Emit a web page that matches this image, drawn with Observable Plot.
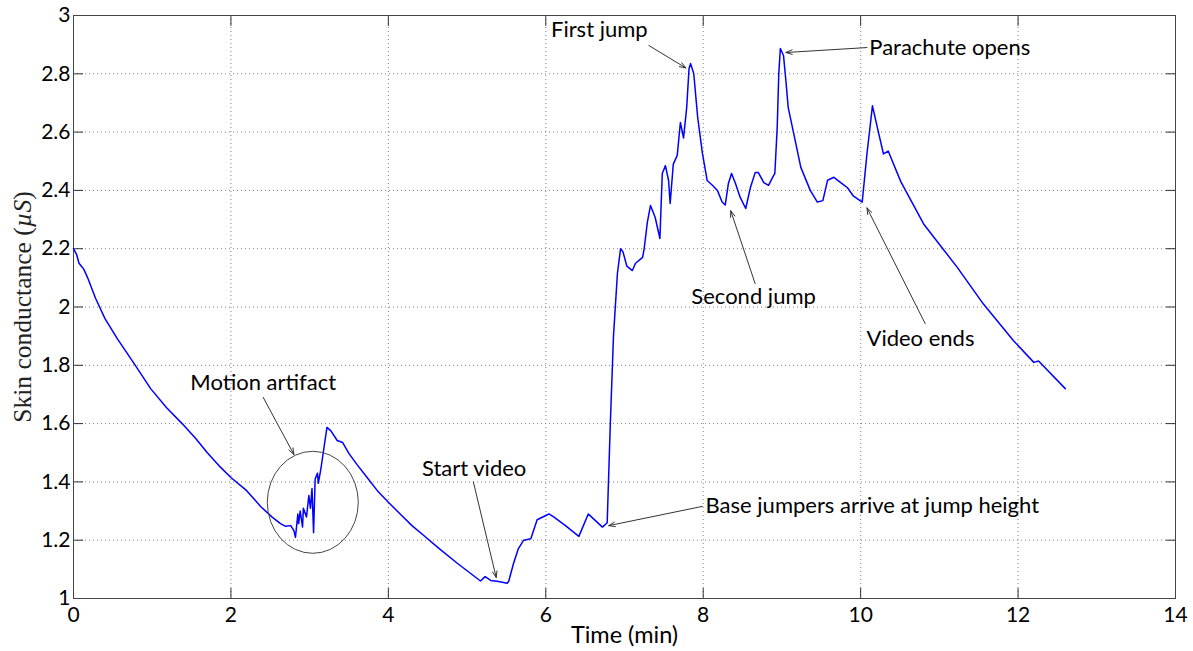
<!DOCTYPE html>
<html><head><meta charset="utf-8">
<script src="https://cdn.jsdelivr.net/npm/d3@7"></script>
<script src="https://cdn.jsdelivr.net/npm/@observablehq/plot@0.6"></script>
<style>body{margin:0;background:#fff} svg{display:block}</style>
</head><body><div id="chart"></div>
<script>
// Time (min)
const time = [0.00,0.04,0.07,0.10,0.13,0.18,0.28,0.40,0.56,0.76,0.98,1.18,1.38,1.55,1.70,1.85,2.00,2.20,2.38,2.52,2.63,2.69,2.76,2.80,2.82,2.85,2.86,2.88,2.91,2.92,2.96,2.99,3.01,3.03,3.05,3.07,3.10,3.11,3.14,3.22,3.27,3.35,3.42,3.50,3.60,3.73,3.86,4.00,4.15,4.30,4.45,4.65,4.88,5.05,5.17,5.23,5.30,5.40,5.51,5.53,5.59,5.65,5.72,5.81,5.89,6.04,6.10,6.25,6.42,6.54,6.60,6.72,6.78,6.82,6.86,6.91,6.95,6.98,7.03,7.10,7.14,7.23,7.25,7.29,7.33,7.39,7.45,7.48,7.52,7.56,7.58,7.62,7.67,7.71,7.75,7.79,7.82,7.84,7.88,7.93,7.99,8.05,8.12,8.18,8.24,8.28,8.32,8.36,8.41,8.47,8.54,8.60,8.66,8.70,8.77,8.83,8.88,8.91,8.94,8.96,8.98,9.02,9.05,9.08,9.15,9.24,9.36,9.45,9.52,9.58,9.66,9.78,9.83,9.91,10.02,10.08,10.15,10.23,10.29,10.35,10.51,10.80,11.23,11.56,11.94,12.20,12.26,12.60];
// Skin conductance (µS)
const conductance = [2.200,2.180,2.150,2.140,2.130,2.100,2.030,1.960,1.890,1.810,1.720,1.655,1.600,1.550,1.500,1.455,1.415,1.370,1.315,1.280,1.257,1.248,1.250,1.233,1.210,1.290,1.257,1.300,1.245,1.310,1.280,1.353,1.310,1.377,1.226,1.410,1.430,1.395,1.440,1.587,1.575,1.542,1.535,1.497,1.460,1.415,1.370,1.330,1.290,1.250,1.216,1.170,1.120,1.085,1.060,1.075,1.062,1.058,1.052,1.060,1.120,1.170,1.200,1.205,1.270,1.290,1.280,1.250,1.213,1.290,1.275,1.245,1.260,1.600,1.900,2.115,2.200,2.190,2.140,2.125,2.150,2.170,2.200,2.290,2.348,2.307,2.235,2.458,2.485,2.434,2.355,2.490,2.520,2.633,2.580,2.684,2.818,2.835,2.800,2.650,2.527,2.434,2.417,2.400,2.360,2.350,2.424,2.458,2.424,2.376,2.338,2.410,2.461,2.461,2.427,2.417,2.444,2.458,2.616,2.800,2.887,2.863,2.777,2.684,2.595,2.479,2.400,2.360,2.365,2.435,2.445,2.420,2.410,2.380,2.360,2.525,2.690,2.595,2.525,2.535,2.430,2.285,2.135,2.010,1.885,1.810,1.815,1.720];

const xTicks = [0,2,4,6,8,10,12,14];
const yTicks = [1,1.2,1.4,1.6,1.8,2,2.2,2.4,2.6,2.8,3];

// Annotations: label, text position, text anchor, arrow from -> to
const noteLabels  = ["Motion artifact","Start video","Base jumpers arrive at jump height","First jump","Parachute opens","Second jump","Video ends"];
const noteTextX   = [2.41, 5.09, 8.03, 6.68, 10.11, 8.64, 10.76];
const noteTextY   = [1.738, 1.446, 1.316, 2.949, 2.89, 2.033, 1.892];
const noteAnchor  = ["middle","middle","start","middle","start","middle","middle"];
const arrowFromX  = [2.41, 5.08, 7.99, 7.31, 10.08, 8.66, 10.82];
const arrowFromY  = [1.69, 1.40, 1.316, 2.897, 2.89, 2.08, 1.943];
const arrowToX    = [2.80, 5.37, 6.80, 7.78, 9.05, 8.35, 10.08];
const arrowToY    = [1.494, 1.072, 1.25, 2.82, 2.873, 2.33, 2.34];
// Circle around motion artifact (centre)
const artifactCircle = [{x: 3.04, y: 1.33}];

const series = time.map((t, i) => ({t, c: conductance[i]}));
const notes = noteLabels.map((label, i) => ({
  label, tx: noteTextX[i], ty: noteTextY[i], anchor: noteAnchor[i],
  x1: arrowFromX[i], y1: arrowFromY[i], x2: arrowToX[i], y2: arrowToY[i]
}));

const fmt = d => String(+d.toFixed(2));

const chart = Plot.plot({
  width: 1193, height: 651,
  marginLeft: 73, marginRight: 18, marginTop: 15, marginBottom: 53,
  x: {domain: [0, 14]},
  y: {domain: [1, 3]},
  style: {fontFamily: "Lato, 'Open Sans', sans-serif", fontSize: "21px", color: "#000", background: "#fff"},
  marks: [
    Plot.gridX(xTicks, {stroke: "#808080", strokeOpacity: 1, strokeDasharray: "1,3"}),
    Plot.gridY(yTicks, {stroke: "#808080", strokeOpacity: 1, strokeDasharray: "1,3"}),
    Plot.axisX(xTicks, {anchor: "bottom", tickSize: -10, tickPadding: 19, tickFormat: fmt, label: null, stroke: "#333", fill: "#000"}),
    Plot.axisX(xTicks, {anchor: "top", tickSize: -10, tickFormat: () => "", label: null, stroke: "#333"}),
    Plot.axisY(yTicks, {anchor: "left", tickSize: -10, tickPadding: 13, tickFormat: fmt, label: null, stroke: "#333", fill: "#000"}),
    Plot.axisY(yTicks, {anchor: "right", tickSize: -10, tickFormat: () => "", label: null, stroke: "#333"}),
    Plot.frame({stroke: "#444"}),
    Plot.line(series, {x: "t", y: "c", stroke: "#0000ff", strokeWidth: 1.5}),
    Plot.dot(artifactCircle, {x: "x", y: "y", r: 48, stroke: "#444", strokeWidth: 1, fill: "none"}),
    Plot.arrow(notes, {x1: "x1", y1: "y1", x2: "x2", y2: "y2", stroke: "#333", strokeWidth: 1, headLength: 10, headAngle: 40}),
    Plot.text(notes.filter(d => d.anchor === "middle"), {x: "tx", y: "ty", text: "label", textAnchor: "middle", fontSize: 22, fill: "#000"}),
    Plot.text(notes.filter(d => d.anchor === "start"), {x: "tx", y: "ty", text: "label", textAnchor: "start", fontSize: 22, fill: "#000"}),
    Plot.text(["Time (min)"], {frameAnchor: "bottom", dy: 44, text: d => d, textAnchor: "middle", fontSize: 23.5, fill: "#000"}),
    Plot.text(["Skin conductance (µS)"], {frameAnchor: "left", dx: -51, rotate: -90, textAnchor: "middle", text: d => d, fontSize: 25.5, fill: "#222", fontFamily: "'Liberation Serif', serif"})
  ]
});
document.getElementById("chart").appendChild(chart);

// Slightly elliptical artifact circle (as in the reference)
d3.select(chart).selectAll("g[aria-label='dot'] circle").each(function() {
  const g = this.parentNode;
  const tr = this.getAttribute("transform");
  let cx = +this.getAttribute("cx") || 0, cy = +this.getAttribute("cy") || 0;
  if (tr) { const m = tr.match(/translate\(([-\d.]+),\s*([-\d.]+)\)/); if (m) { cx = +m[1]; cy = +m[2]; } }
  const e = document.createElementNS("http://www.w3.org/2000/svg", "ellipse");
  e.setAttribute("cx", cx); e.setAttribute("cy", cy);
  e.setAttribute("rx", 45.5); e.setAttribute("ry", 51);
  e.setAttribute("fill", "none"); e.setAttribute("stroke", "#444"); e.setAttribute("stroke-width", 1);
  g.replaceChild(e, this);
});
// Italic µS in the y label
d3.select(chart).selectAll("text").each(function() {
  if (this.textContent === "Skin conductance (µS)") {
    const t = d3.select(this); t.text("");
    t.append("tspan").text("Skin conductance (");
    t.append("tspan").attr("font-style", "italic").text("µS");
    t.append("tspan").text(")");
  }
});
</script>
</body></html>
